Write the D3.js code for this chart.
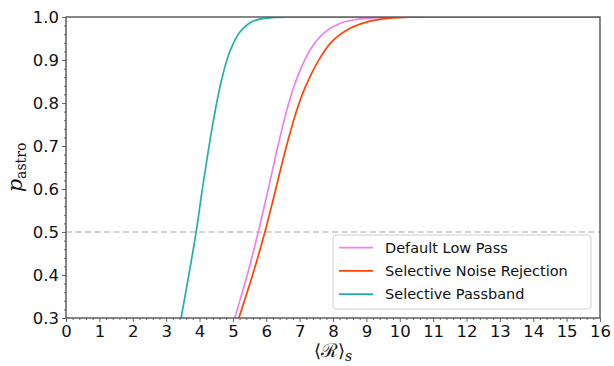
<!DOCTYPE html>
<html>
<head>
<meta charset="utf-8">
<script src="https://cdn.jsdelivr.net/npm/d3@7"></script>
<style>
  html, body { margin: 0; padding: 0; background: #fff; }
  svg { display: block; }
  text { font-family: "DejaVu Sans", sans-serif; }
</style>
</head>
<body>
<svg id="chart" width="614" height="366"></svg>
<script>
// Detection probability curves against mean ranking statistic
const seriesNames = ["Default Low Pass", "Selective Noise Rejection", "Selective Passband"];
const seriesColors = ["#ee82ee", "#ff4500", "#20b2aa"];

const lowPassX = [4.7, 5.06, 5.43, 5.76, 6.06, 6.36, 6.66, 6.96, 7.36, 7.76, 8.2, 8.6, 9.0, 9.5, 10.2, 11, 16];
const lowPassY = [0.20, 0.30, 0.40, 0.50, 0.600, 0.703, 0.796, 0.866, 0.929, 0.965, 0.985, 0.993, 0.997, 0.9993, 1.0, 1.0, 1.0];

const noiseRejX = [4.8, 5.18, 5.59, 5.96, 6.26, 6.56, 6.86, 7.16, 7.56, 7.96, 8.5, 9.0, 9.5, 10.0, 10.7, 11.5, 16];
const noiseRejY = [0.21, 0.30, 0.40, 0.50, 0.592, 0.686, 0.770, 0.835, 0.898, 0.942, 0.973, 0.988, 0.9955, 0.9985, 1.0, 1.0, 1.0];

const passbandX = [3.2, 3.45, 3.68, 3.9, 4.1, 4.4, 4.65, 4.9, 5.2, 5.6, 6.1, 6.7, 7.5, 16];
const passbandY = [0.20, 0.30, 0.40, 0.50, 0.607, 0.752, 0.850, 0.918, 0.964, 0.990, 0.998, 1.0, 1.0, 1.0];

const xTicks = d3.range(0, 17, 1);
const yTicks = [0.3, 0.4, 0.5, 0.6, 0.7, 0.8, 0.9, 1.0];
const threshold = 0.5;

const series = [
  { name: seriesNames[0], color: seriesColors[0], xs: lowPassX, ys: lowPassY },
  { name: seriesNames[1], color: seriesColors[1], xs: noiseRejX, ys: noiseRejY },
  { name: seriesNames[2], color: seriesColors[2], xs: passbandX, ys: passbandY }
];

const margin = { left: 66, right: 14, top: 17, bottom: 48 };
const W = 614, H = 366;
const svg = d3.select("#chart");

const x = d3.scaleLinear().domain([0, 16]).range([margin.left, W - margin.right]);
const y = d3.scaleLinear().domain([0.3, 1.0]).range([H - margin.bottom, margin.top]);

svg.append("defs").append("clipPath").attr("id", "plotClip")
  .append("rect")
  .attr("x", x(0)).attr("y", y(1.0))
  .attr("width", x(16) - x(0)).attr("height", y(0.3) - y(1.0));

// threshold line
svg.append("line")
  .attr("x1", x(0)).attr("x2", x(16))
  .attr("y1", y(threshold)).attr("y2", y(threshold))
  .attr("stroke", "#a8a8a8").attr("stroke-width", 1.1)
  .attr("stroke-dasharray", "6,3.5");

// curves
const line = d3.line()
  .x(d => x(d[0])).y(d => y(d[1]))
  .curve(d3.curveCatmullRom.alpha(0.5));

const curves = svg.append("g").attr("clip-path", "url(#plotClip)");
series.forEach(s => {
  curves.append("path")
    .datum(s.xs.map((v, i) => [v, s.ys[i]]))
    .attr("d", line)
    .attr("fill", "none")
    .attr("stroke", s.color)
    .attr("stroke-width", 1.7);
});

// axes
const axisColor = "#555";
const xAxis = svg.append("g").attr("transform", `translate(0,${y(0.3)})`)
  .call(d3.axisBottom(x).tickValues(xTicks).tickFormat(d3.format("d")).tickSize(4).tickPadding(3));
const xMinor = svg.append("g").attr("transform", `translate(0,${y(0.3)})`)
  .call(d3.axisBottom(x).tickValues(d3.range(0, 16.01, 0.2).filter(v => Math.abs(v - Math.round(v)) > 1e-6)).tickFormat("").tickSize(2));
const yAxis = svg.append("g").attr("transform", `translate(${x(0)},0)`)
  .call(d3.axisLeft(y).tickValues(yTicks).tickFormat(d3.format(".1f")).tickSize(4).tickPadding(3));
const yMinor = svg.append("g").attr("transform", `translate(${x(0)},0)`)
  .call(d3.axisLeft(y).tickValues(d3.range(0.3, 1.001, 0.02).filter(v => Math.abs(v * 10 - Math.round(v * 10)) > 1e-6)).tickFormat("").tickSize(2));

[xAxis, xMinor, yAxis, yMinor].forEach(g => {
  g.select(".domain").remove();
  g.selectAll(".tick line").attr("stroke", axisColor).attr("stroke-width", 0.9);
  g.selectAll(".tick text").attr("fill", "#111").style("font-size", "16.5px")
    .style("font-family", "DejaVu Sans, sans-serif");
});

// frame
svg.append("rect")
  .attr("x", x(0)).attr("y", y(1.0))
  .attr("width", x(16) - x(0)).attr("height", y(0.3) - y(1.0))
  .attr("fill", "none").attr("stroke", axisColor).attr("stroke-width", 1.4);

// axis titles
const yTitle = svg.append("text")
  .attr("transform", `translate(22,${(y(0.3) + y(1.0)) / 2}) rotate(-90)`)
  .attr("text-anchor", "middle")
  .style("font-family", "DejaVu Serif, serif")
  .attr("fill", "#111");
yTitle.append("tspan").text("p").style("font-style", "italic").style("font-size", "21px");
yTitle.append("tspan").text("astro").attr("dy", 4).style("font-size", "14px");

const xTitle = svg.append("text")
  .attr("x", (x(0) + x(16)) / 2).attr("y", 357)
  .attr("text-anchor", "middle")
  .style("font-family", "DejaVu Serif, serif")
  .attr("fill", "#111");
xTitle.append("tspan").text("\u27E8").style("font-size", "18px");
xTitle.append("tspan").text("\u211B").style("font-size", "19px").style("font-family", "DejaVu Serif, serif");
xTitle.append("tspan").text("\u27E9").style("font-size", "18px");
xTitle.append("tspan").text("s").attr("dy", 4).style("font-style", "italic").style("font-size", "14px");

// legend
const lg = svg.append("g").attr("transform", "translate(333,235)");
lg.append("rect")
  .attr("width", 258).attr("height", 74).attr("rx", 3)
  .attr("fill", "#fff").attr("fill-opacity", 0.85)
  .attr("stroke", "#d0d0d0").attr("stroke-width", 1);
series.forEach((s, i) => {
  const cy = 12.7 + i * 23.2;
  lg.append("line").attr("x1", 6).attr("x2", 40).attr("y1", cy).attr("y2", cy)
    .attr("stroke", s.color).attr("stroke-width", 1.7);
  lg.append("text").attr("x", 52).attr("y", cy).attr("dy", "0.35em")
    .style("font-size", "14.5px").attr("fill", "#111").text(s.name);
});
</script>
</body>
</html>
